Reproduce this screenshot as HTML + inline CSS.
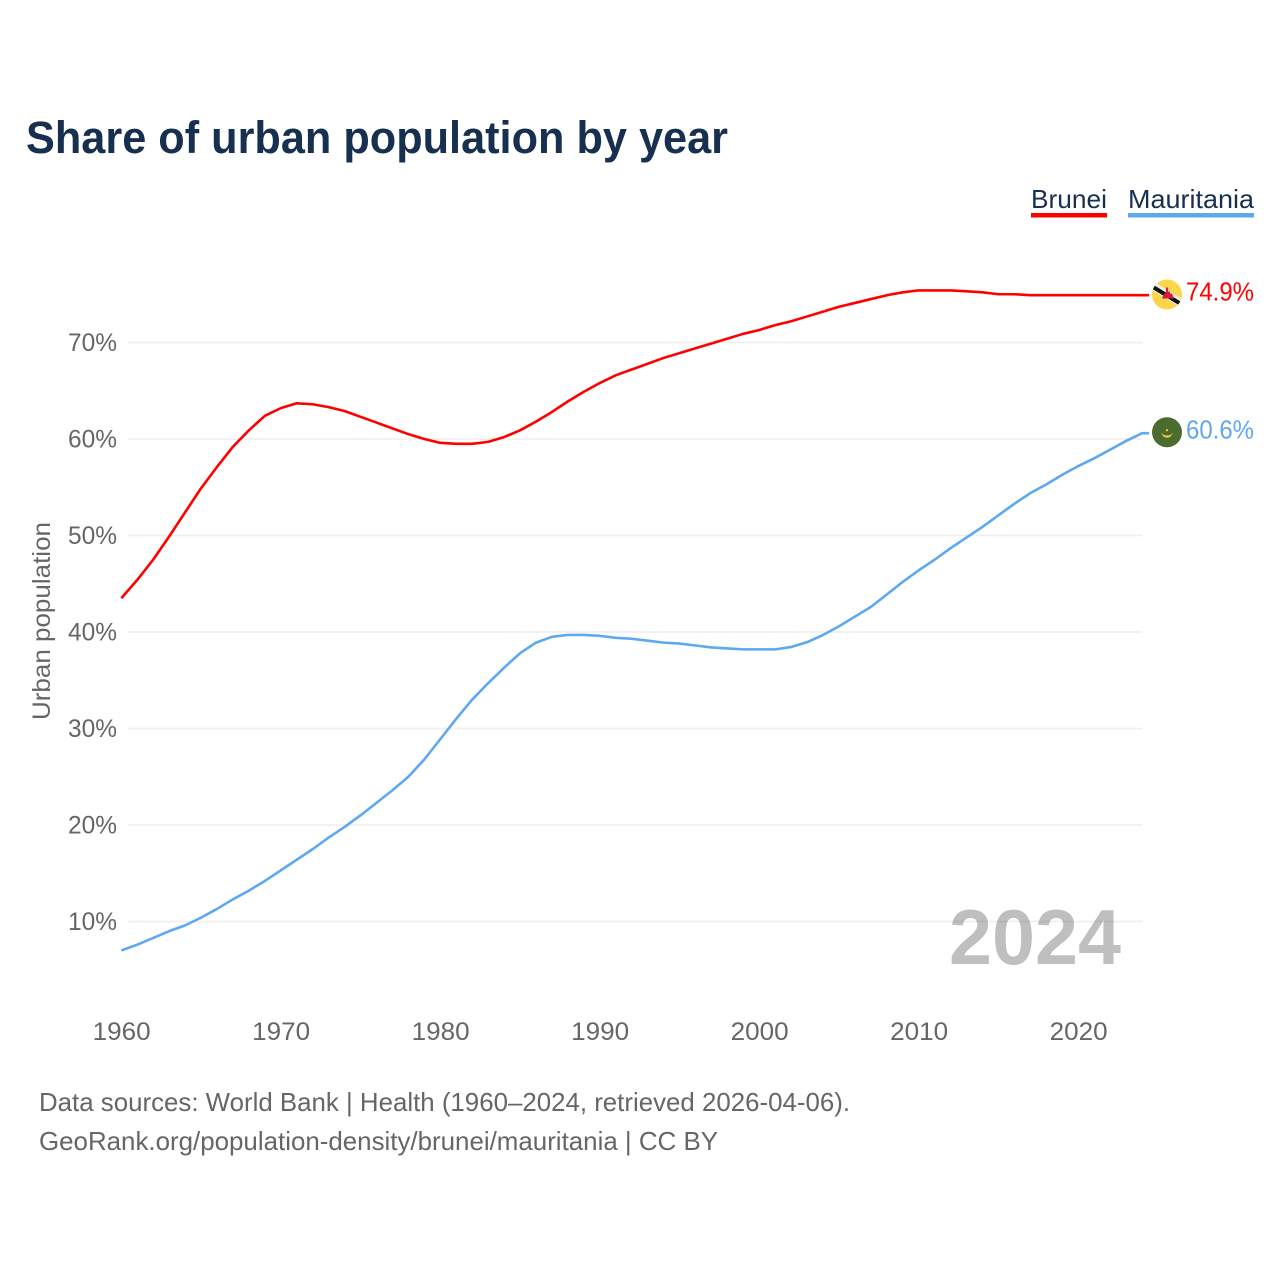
<!DOCTYPE html>
<html lang="en">
<head>
<meta charset="utf-8">
<title>Share of urban population by year</title>
<style>
html,body{margin:0;padding:0;background:#fff;width:1280px;height:1280px;overflow:hidden}
svg{display:block}
text{font-family:"Liberation Sans",sans-serif}
</style>
</head>
<body>
<svg id="chart" xmlns="http://www.w3.org/2000/svg" width="1280" height="1280" viewBox="0 0 1280 1280">
  <rect x="0" y="0" width="1280" height="1280" fill="#ffffff"/>
  <text x="26" y="153" font-size="45" font-weight="700" fill="#18304f" textLength="702" lengthAdjust="spacingAndGlyphs">Share of urban population by year</text>

  <g>
    <text x="1031" y="208" font-size="26" fill="#18304f" textLength="76" lengthAdjust="spacingAndGlyphs">Brunei</text>
    <rect x="1031" y="213" width="76" height="4.5" fill="#ff0000"/>
  </g>
  <g>
    <text x="1128" y="208" font-size="26" fill="#18304f" textLength="126" lengthAdjust="spacingAndGlyphs">Mauritania</text>
    <rect x="1128" y="213" width="126" height="4.5" fill="#5ea8ef"/>
  </g>

  <g id="grid"></g>
  <g id="yticks"></g>
  <g id="xticks"></g>
  <text transform="translate(50,720) rotate(-90)" font-size="25" fill="#666666" textLength="198" lengthAdjust="spacingAndGlyphs">Urban population</text>

  <g id="series"></g>

  <text x="949" y="964" font-size="78" font-weight="700" fill="#000000" fill-opacity="0.25" textLength="172" lengthAdjust="spacingAndGlyphs">2024</text>

  <g id="end-markers"></g>

  <g>
    <text x="39" y="1111" font-size="26" fill="#666666" textLength="811" lengthAdjust="spacingAndGlyphs">Data sources: World Bank | Health (1960–2024, retrieved 2026-04-06).</text>
    <text x="39" y="1150" font-size="26" fill="#666666" textLength="679" lengthAdjust="spacingAndGlyphs">GeoRank.org/population-density/brunei/mauritania | CC BY</text>
  </g>
</svg>
<script>
const startYear = 1960;
const xTickYears = [1960, 1970, 1980, 1990, 2000, 2010, 2020];
const yTickValues = [10, 20, 30, 40, 50, 60, 70];
const bruneiValues = [43.5,45.4,47.5,49.9,52.4,54.9,57.1,59.2,60.9,62.4,63.2,63.7,63.6,63.3,62.9,62.3,61.7,61.1,60.5,60.0,59.6,59.5,59.5,59.7,60.2,60.9,61.8,62.8,63.9,64.9,65.8,66.6,67.2,67.8,68.4,68.9,69.4,69.9,70.4,70.9,71.3,71.8,72.2,72.7,73.2,73.7,74.1,74.5,74.9,75.2,75.4,75.4,75.4,75.3,75.2,75.0,75.0,74.9,74.9,74.9,74.9,74.9,74.9,74.9,74.9];
const mauritaniaValues = [7.0,7.6,8.3,9.0,9.6,10.4,11.3,12.3,13.2,14.2,15.3,16.4,17.5,18.7,19.8,21.0,22.3,23.6,25.0,26.8,28.9,31.0,33.0,34.7,36.3,37.8,38.9,39.5,39.7,39.7,39.6,39.4,39.3,39.1,38.9,38.8,38.6,38.4,38.3,38.2,38.2,38.2,38.45,38.95,39.7,40.6,41.6,42.6,43.9,45.2,46.4,47.5,48.7,49.8,50.9,52.1,53.3,54.4,55.3,56.3,57.2,58.0,58.9,59.8,60.6];

const NS = 'http://www.w3.org/2000/svg';
const xScale = function (year) { return 121.3 + (year - 1960) * 15.95; };
const yScale = function (value) { return 1018 - value * 9.65; };
const mk = function (tag, parent) {
  const el = document.createElementNS(NS, tag);
  parent.appendChild(el);
  return el;
};

const grid = document.getElementById('grid');
const yTicks = document.getElementById('yticks');
const xTicks = document.getElementById('xticks');
const seriesGroup = document.getElementById('series');
const markers = document.getElementById('end-markers');
const lastYear = startYear + bruneiValues.length - 1;

yTickValues.forEach(function (v) {
  const line = mk('line', grid);
  
  
  line.setAttribute('x1', 128);
  line.setAttribute('x2', xScale(lastYear));
  line.setAttribute('y1', yScale(v));
  line.setAttribute('y2', yScale(v));
  line.setAttribute('stroke', '#eeeeee');
  line.setAttribute('stroke-width', 1.6);

  const label = mk('text', yTicks);
  
  
  label.setAttribute('x', 117);
  label.setAttribute('y', yScale(v) + 8.5);
  label.setAttribute('font-size', 25);
  label.setAttribute('fill', '#666666');
  label.setAttribute('text-anchor', 'end');
  label.setAttribute('textLength', 49);
  label.setAttribute('lengthAdjust', 'spacingAndGlyphs');
  label.textContent = v + '%';
});

xTickYears.forEach(function (year) {
  const label = mk('text', xTicks);
  
  
  label.setAttribute('x', xScale(year) + 0.4);
  label.setAttribute('y', 1040);
  label.setAttribute('font-size', 25);
  label.setAttribute('fill', '#666666');
  label.setAttribute('text-anchor', 'middle');
  label.setAttribute('textLength', 58);
  label.setAttribute('lengthAdjust', 'spacingAndGlyphs');
  label.textContent = String(year);
});

const drawSeries = function (values, color, key) {
  const pts = values.map(function (v, i) {
    return xScale(startYear + i).toFixed(2) + ',' + yScale(v).toFixed(2);
  });
  const last = values[values.length - 1];
  pts.push((xScale(lastYear) + 7).toFixed(2) + ',' + yScale(last).toFixed(2));
  const line = mk('polyline', seriesGroup);
  
  
  line.setAttribute('points', pts.join(' '));
  line.setAttribute('fill', 'none');
  line.setAttribute('stroke', color);
  line.setAttribute('stroke-width', 2.6);
  line.setAttribute('stroke-linejoin', 'round');
};
drawSeries(bruneiValues, '#ff0000', 'brunei');
drawSeries(mauritaniaValues, '#5ea8ef', 'mauritania');

const drawEndLabel = function (values, color, key) {
  const last = values[values.length - 1];
  const label = mk('text', markers);
  
  
  label.setAttribute('x', 1186);
  label.setAttribute('y', yScale(last) + 5.5);
  label.setAttribute('font-size', 26);
  label.setAttribute('fill', color);
  label.setAttribute('textLength', 68);
  label.setAttribute('lengthAdjust', 'spacingAndGlyphs');
  label.textContent = last.toFixed(1) + '%';
};
drawEndLabel(bruneiValues, '#ff0000', 'brunei');
drawEndLabel(mauritaniaValues, '#5ea8ef', 'mauritania');

const drawBruneiFlag = function (value) {
  const g = mk('g', markers);
  
  
  g.setAttribute('transform', 'translate(1167,' + (yScale(value) - 0.7) + ')');
  const clip = mk('clipPath', g);
  clip.setAttribute('id', 'flag-clip-brunei');
  const cc = mk('circle', clip);
  cc.setAttribute('r', 15);
  const disc = mk('circle', g);
  disc.setAttribute('r', 15);
  disc.setAttribute('fill', '#fcd64a');
  const bands = mk('g', g);
  bands.setAttribute('clip-path', 'url(#flag-clip-brunei)');
  const white = mk('line', bands);
  white.setAttribute('x1', -18);
  white.setAttribute('y1', -11);
  white.setAttribute('x2', 18);
  white.setAttribute('y2', 11);
  white.setAttribute('stroke', '#eeeeee');
  white.setAttribute('stroke-width', 8);
  const black = mk('line', bands);
  black.setAttribute('x1', -18);
  black.setAttribute('y1', -10);
  black.setAttribute('x2', 18);
  black.setAttribute('y2', 12);
  black.setAttribute('stroke', '#111111');
  black.setAttribute('stroke-width', 4);
  const crest = mk('path', g);
  crest.setAttribute('d', 'M-1 -7h2v4h2v2h2l2 5h-12l2 -5h2v-2h0z');
  crest.setAttribute('fill', '#d91a3c');
};
drawBruneiFlag(bruneiValues[bruneiValues.length - 1]);

const drawMauritaniaFlag = function (value) {
  const g = mk('g', markers);
  
  
  g.setAttribute('transform', 'translate(1167,' + (yScale(value) - 1) + ')');
  const disc = mk('circle', g);
  disc.setAttribute('r', 15);
  disc.setAttribute('fill', '#4c6b2f');
  const crescent = mk('path', g);
  crescent.setAttribute('d', 'M-5.5 0a5.5 5.5 0 0 0 11 0a5.5 3.2 0 0 1 -11 0z');
  crescent.setAttribute('fill', '#f0c83c');
  const star = mk('circle', g);
  star.setAttribute('cy', -2);
  star.setAttribute('r', 1.2);
  star.setAttribute('fill', '#f0c83c');
};
drawMauritaniaFlag(mauritaniaValues[mauritaniaValues.length - 1]);
</script>
</body>
</html>
